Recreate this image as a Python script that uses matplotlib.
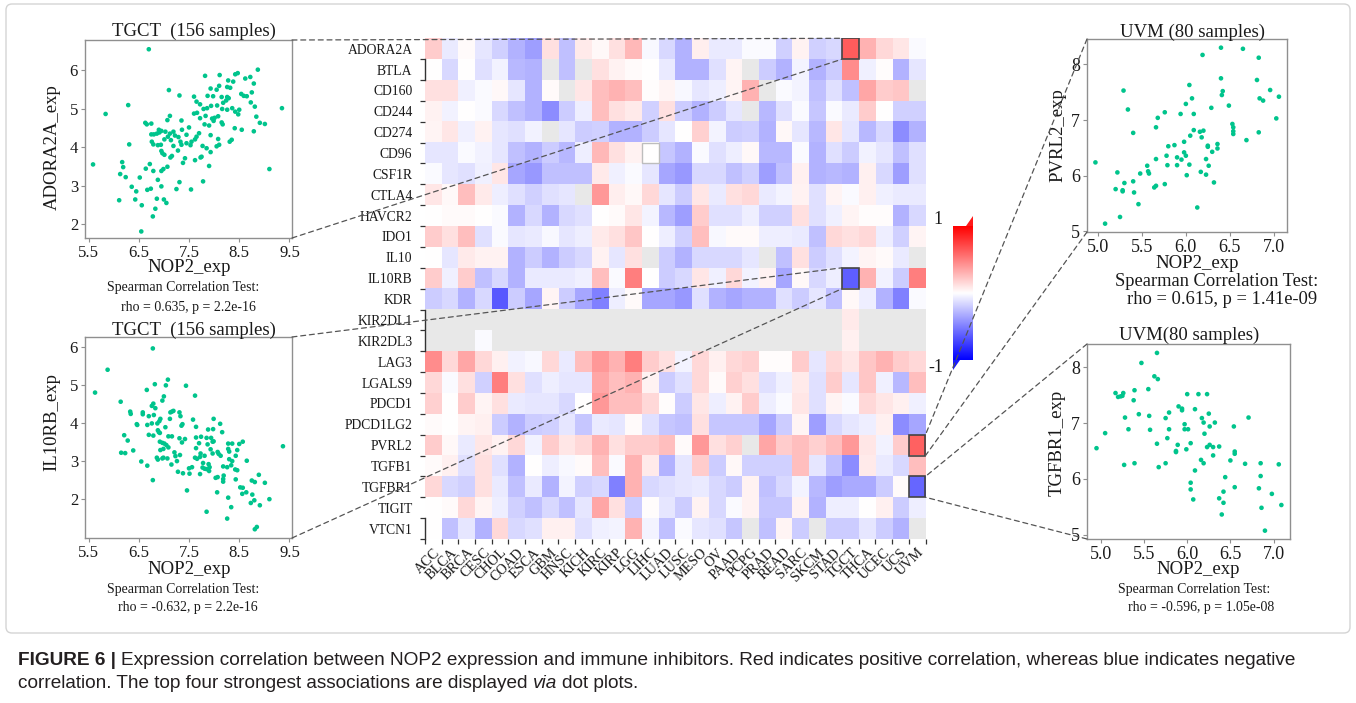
import numpy as np
import matplotlib
matplotlib.use("Agg")
import matplotlib.pyplot as plt
from matplotlib.patches import ConnectionPatch, Rectangle, Polygon, FancyBboxPatch
from matplotlib.transforms import IdentityTransform

plt.rcParams['font.family'] = ['Liberation Serif', 'DejaVu Serif']

# ---------------- data ----------------
genes = ['ADORA2A', 'BTLA', 'CD160', 'CD244', 'CD274', 'CD96', 'CSF1R', 'CTLA4',
         'HAVCR2', 'IDO1', 'IL10', 'IL10RB', 'KDR', 'KIR2DL1', 'KIR2DL3', 'LAG3',
         'LGALS9', 'PDCD1', 'PDCD1LG2', 'PVRL2', 'TGFB1', 'TGFBR1', 'TIGIT', 'VTCN1']
cancers = ['ACC', 'BLCA', 'BRCA', 'CESC', 'CHOL', 'COAD', 'ESCA', 'GBM', 'HNSC', 'KICH',
           'KIRC', 'KIRP', 'LGG', 'LIHC', 'LUAD', 'LUSC', 'MESO', 'OV', 'PAAD', 'PCPG',
           'PRAD', 'READ', 'SARC', 'SKCM', 'STAD', 'TGCT', 'THCA', 'UCEC', 'UCS', 'UVM']
NA = np.nan
r_ADORA2A = [0.20, -0.08, 0.02, -0.10, -0.18, -0.30, -0.38, 0.12, -0.25, 0.08, 0.03, 0.12,
             0.28, -0.03, -0.15, -0.30, 0.07, -0.08, -0.08, -0.02, -0.02, -0.18, 0.05, -0.18,
             -0.15, 0.635, 0.30, 0.15, 0.10, -0.02]
r_BTLA = [0.00, -0.15, 0.00, -0.12, -0.05, -0.28, -0.30, NA, -0.25, NA, 0.12, 0.05,
          0.02, 0.00, -0.08, -0.30, -0.30, -0.12, 0.04, NA, -0.20, -0.30, -0.04, -0.30,
          -0.20, 0.45, -0.06, 0.01, -0.30, -0.10]
r_CD160 = [0.12, 0.12, -0.06, -0.02, 0.03, -0.10, -0.30, 0.02, NA, 0.10, 0.25, 0.30,
           0.25, 0.01, 0.04, -0.03, -0.10, -0.07, 0.04, 0.30, NA, -0.02, -0.04, -0.25,
           -0.12, -0.25, 0.35, 0.20, 0.22, NA]
r_CD244 = [0.05, -0.05, 0.00, -0.02, -0.15, -0.25, -0.30, -0.45, -0.20, -0.07, 0.25, 0.12,
           0.08, -0.18, 0.12, -0.20, -0.30, -0.20, -0.10, NA, -0.28, -0.12, -0.02, -0.22,
           -0.02, -0.08, 0.20, 0.00, -0.18, -0.18]
r_CD274 = [0.04, 0.10, -0.06, 0.05, -0.10, -0.12, -0.05, NA, -0.10, -0.20, -0.18, -0.30,
           -0.30, -0.20, -0.10, 0.00, 0.18, -0.04, -0.20, -0.18, -0.30, 0.03, -0.10, -0.28,
           0.10, -0.10, -0.28, -0.15, -0.45, -0.30]
r_CD96 = [-0.10, -0.10, -0.02, -0.05, -0.10, -0.25, -0.30, -0.20, -0.28, -0.07, 0.28, 0.12,
          0.05, 0.00, -0.22, -0.30, -0.02, -0.12, -0.07, 0.03, -0.28, -0.28, -0.02, -0.30,
          -0.12, -0.20, -0.05, -0.10, -0.25, -0.12]
r_CSF1R = [-0.02, -0.10, -0.12, -0.06, 0.10, -0.35, -0.40, -0.25, -0.25, -0.25, 0.08, -0.06,
           -0.02, -0.10, -0.35, -0.40, -0.15, -0.15, -0.25, -0.18, -0.38, -0.25, 0.06, -0.30,
           -0.28, -0.30, 0.06, -0.15, -0.38, -0.12]
r_CTLA4 = [0.10, 0.03, 0.25, 0.08, -0.07, -0.12, -0.18, -0.12, -0.10, NA, 0.40, 0.07,
           0.03, 0.15, -0.10, -0.20, 0.10, -0.08, 0.12, 0.15, -0.08, -0.04, 0.05, -0.12,
           0.04, -0.02, 0.06, -0.06, -0.08, -0.08]
r_HAVCR2 = [0.00, 0.02, 0.02, 0.00, -0.02, -0.30, -0.15, -0.30, -0.15, -0.12, 0.00, 0.02,
            0.10, -0.04, -0.28, -0.38, 0.20, -0.12, -0.12, -0.07, -0.18, -0.18, 0.12, -0.12,
            -0.06, 0.04, 0.01, 0.01, -0.30, -0.15]
r_IDO1 = [0.20, 0.12, 0.25, -0.12, -0.02, -0.10, -0.08, -0.03, -0.10, -0.07, 0.08, 0.12,
          0.22, 0.00, -0.07, -0.18, 0.25, -0.03, 0.02, 0.02, -0.07, -0.07, -0.08, -0.25,
          0.15, 0.12, 0.15, -0.07, -0.18, 0.04]
r_IL10 = [0.00, -0.10, 0.08, 0.05, 0.05, -0.30, -0.20, -0.30, -0.20, -0.15, 0.05, -0.10,
          0.12, NA, -0.20, -0.30, -0.15, -0.15, -0.15, -0.10, NA, -0.25, 0.12, -0.20,
          -0.12, -0.04, 0.04, 0.02, -0.08, NA]
r_IL10RB = [0.20, -0.06, 0.20, -0.25, -0.15, -0.30, -0.08, -0.08, -0.08, -0.06, 0.25, -0.02,
            0.50, 0.00, -0.20, -0.15, 0.10, -0.06, 0.15, -0.05, 0.05, -0.35, 0.03, -0.15,
            -0.07, -0.632, 0.30, -0.05, -0.20, 0.50]
r_KDR = [-0.20, -0.15, -0.30, -0.15, -0.65, -0.20, -0.35, 0.04, -0.20, -0.35, -0.50, -0.07,
         0.02, -0.35, -0.35, -0.40, -0.12, -0.30, -0.35, -0.30, -0.30, -0.12, -0.20, -0.10,
         -0.25, 0.03, -0.07, -0.30, -0.50, -0.02]
r_KIR2DL1 = [NA] * 25 + [0.08] + [NA] * 4
r_KIR2DL3 = [NA, NA, NA, -0.02] + [NA] * 21 + [0.06] + [NA] * 4
r_LAG3 = [0.45, 0.15, 0.35, 0.15, 0.06, -0.05, -0.03, 0.15, -0.08, 0.25, 0.40, 0.30,
          0.50, 0.20, 0.12, -0.04, 0.15, 0.06, 0.15, 0.18, 0.01, 0.01, 0.20, -0.10,
          0.15, 0.10, 0.22, 0.30, 0.20, 0.15]
r_LGALS9 = [0.15, -0.02, 0.12, -0.18, 0.50, 0.12, -0.12, -0.07, -0.10, -0.10, 0.35, 0.25,
            0.30, 0.05, -0.20, -0.12, 0.15, 0.02, 0.18, 0.12, -0.12, -0.06, 0.08, -0.12,
            0.20, -0.10, 0.22, -0.06, -0.28, 0.25]
r_PDCD1 = [0.18, 0.00, 0.20, 0.04, 0.12, -0.08, -0.10, -0.10, -0.15, 0.00, 0.40, 0.25,
           0.25, 0.15, 0.01, -0.20, 0.10, -0.07, 0.05, 0.20, -0.07, -0.02, 0.10, -0.12,
           0.04, -0.02, 0.15, 0.10, 0.06, -0.06]
r_PDCD1LG2 = [0.02, 0.00, 0.04, 0.06, -0.20, -0.30, -0.20, -0.18, -0.10, -0.22, -0.08, -0.10,
              0.02, -0.12, -0.22, -0.25, 0.12, -0.22, -0.22, -0.22, -0.35, -0.20, 0.04, -0.38,
              -0.15, -0.10, -0.07, 0.06, -0.45, -0.35]
r_PVRL2 = [0.20, 0.03, -0.08, 0.10, 0.05, 0.15, -0.05, 0.20, 0.10, 0.15, 0.30, 0.12,
           0.20, 0.20, 0.25, 0.02, 0.40, 0.12, 0.18, NA, 0.35, 0.20, 0.25, 0.18,
           0.25, 0.40, 0.10, -0.05, 0.20, 0.615]
r_TGFB1 = [0.02, 0.06, -0.12, 0.12, -0.12, -0.30, 0.00, -0.07, -0.03, 0.02, 0.25, -0.02,
           0.30, 0.08, -0.30, -0.10, 0.20, -0.20, 0.03, -0.18, -0.18, -0.18, 0.25, -0.10,
           -0.25, -0.45, 0.08, -0.08, -0.15, 0.25]
r_TGFBR1 = [0.15, -0.15, -0.18, 0.12, -0.08, -0.25, -0.08, -0.30, -0.04, -0.18, -0.15, -0.50,
            0.30, -0.15, -0.12, -0.10, -0.08, -0.15, -0.20, 0.05, -0.25, -0.15, -0.04, -0.28,
            -0.38, -0.33, -0.33, -0.20, 0.02, -0.596]
r_TIGIT = [0.00, 0.02, 0.15, 0.04, -0.07, -0.18, -0.25, -0.15, -0.25, -0.10, 0.35, 0.12,
           -0.20, 0.01, -0.10, -0.20, 0.05, -0.15, -0.02, 0.05, -0.22, -0.22, 0.05, -0.30,
           -0.07, -0.07, 0.00, 0.06, -0.20, -0.07]
r_VTCN1 = [0.00, -0.25, -0.10, -0.30, 0.15, -0.15, -0.12, 0.06, 0.06, -0.12, -0.06, -0.04,
           0.30, -0.04, -0.25, -0.02, -0.10, -0.12, -0.22, NA, -0.25, 0.04, -0.20, NA,
           -0.20, -0.20, -0.10, -0.20, -0.30, NA]

# TGCT: NOP2 vs ADORA2A
tl_x = [6.70,7.82,8.11,8.42,8.47,8.87,8.62,8.72,8.28,8.38, 8.79,7.93,8.05,8.10,8.26,8.32,7.10,7.31,7.60,7.87,
        7.98,8.15,8.26,8.29,8.54,8.59,8.65,8.75,7.65,7.72, 6.29,8.24,8.18,8.73,8.81,9.35,7.79,7.86,7.94,8.06,
        8.16,8.26,8.36,8.42,8.50,8.48,7.66,7.60,5.84,7.12, 7.07,8.84,7.72,7.83,7.96,8.01,8.08,6.63,6.66,6.75,
        7.35,7.81,7.90,7.99,8.15,8.17,8.91,9.01,8.41,8.55, 8.79,7.50,7.36,7.19,7.12,7.03,6.95,6.90,6.86,6.80,
        6.91,6.75,7.22,7.29,7.45,7.65,7.70,7.08,7.01,7.14, 7.55,7.62,7.45,7.33,7.35,7.93,8.08,8.35,8.31,6.76,
        6.79,6.88,6.94,6.31,7.77,7.85,8.05,8.10,7.19,7.28, 6.95,6.97,7.01,7.53,7.93,7.75,7.13,7.16,7.42,7.38,
        7.62,7.73,5.59,6.17,6.19,6.72,6.64,7.07,6.99,6.95, 6.79,7.90,9.10,6.13,6.24,6.52,6.88,7.31,7.78,6.95,
        6.36,6.45,6.67,6.74,7.25,7.54,6.11,6.43,6.86,7.00, 7.05,6.56,6.83,6.78,6.55]
tl_y = [6.54,5.85,5.87,5.89,5.92,6.01,5.78,5.82,5.73,5.70, 5.65,5.52,5.49,5.59,5.56,5.54,5.48,5.34,5.31,5.33,
        5.32,5.30,5.30,5.27,5.38,5.33,5.32,5.42,5.18,5.11, 5.09,5.21,5.15,5.16,5.05,5.01,4.99,5.01,5.07,5.08,
        4.99,4.97,5.01,4.92,4.97,4.85,4.89,4.87,4.86,4.81, 4.70,4.79,4.75,4.81,4.74,4.76,4.80,4.63,4.59,4.61,
        4.69,4.59,4.56,4.68,4.64,4.59,4.63,4.60,4.49,4.45, 4.41,4.51,4.45,4.40,4.35,4.40,4.42,4.45,4.35,4.33,
        4.38,4.33,4.30,4.26,4.32,4.27,4.36,4.27,4.20,4.18, 4.14,4.20,4.10,4.14,4.06,4.31,4.21,4.19,4.14,4.14,
        4.07,4.05,4.06,4.07,4.03,3.97,4.02,4.06,4.03,3.91, 3.90,3.84,3.80,4.05,3.87,3.75,3.73,3.77,3.71,3.59,
        3.66,3.73,3.55,3.61,3.48,3.56,3.44,3.49,3.43,3.38, 3.38,3.51,3.43,3.30,3.22,3.21,3.15,3.09,3.11,2.98,
        2.97,2.85,2.89,2.92,2.91,2.90,2.62,2.64,2.66,2.64, 2.55,2.49,2.40,2.20,1.81]

# TGCT: NOP2 vs IL10RB
bl_x = [6.78,5.88,5.63,7.08,7.04,6.82,6.66,7.44,7.62,7.00, 6.97,6.14,6.79,6.76,6.83,6.33,6.34,6.58,6.58,6.70,
        6.80,7.13,7.16,7.19,7.31,7.33,6.46,6.47,6.67,6.76, 6.87,6.91,6.93,7.03,7.12,7.35,7.37,7.58,7.64,7.99,
        8.12,7.88,7.98,8.16,6.88,6.90,6.92,6.70,6.79,7.09, 7.16,6.21,6.28,7.31,7.42,7.36,7.64,7.74,7.85,7.94,
        7.97,7.99,6.92,6.97,7.01,7.05,7.70,7.87,8.28,8.36, 8.50,8.57,9.37,6.93,6.99,7.09,7.21,7.32,7.64,7.73,
        7.81,7.93,7.97,8.07,8.28,8.30,8.46,8.43,6.15,6.23, 6.39,6.86,6.88,6.97,6.99,7.07,7.23,7.26,7.62,7.66,
        7.72,8.09,8.13,6.55,6.67,7.15,7.78,7.89,8.30,8.36, 8.65,7.50,7.56,7.77,7.81,7.85,7.91,7.90,8.18,8.26,
        8.34,7.28,7.38,7.51,7.72,8.03,8.07,8.18,8.19,8.42, 8.46,8.75,8.81,8.89,9.01,6.78,8.18,8.43,8.52,8.57,
        7.46,8.06,8.56,8.64,8.76,8.28,8.80,8.73,9.10,8.91, 8.34,7.85,8.26,8.85,8.81]
bl_y = [5.96,5.40,4.80,5.14,4.99,5.02,4.87,4.98,4.72,4.70, 4.59,4.56,4.51,4.45,4.39,4.30,4.24,4.28,4.23,4.18,
        4.21,4.28,4.30,4.32,4.28,4.18,3.97,3.95,3.95,3.99, 3.99,4.05,4.11,3.89,4.11,3.93,3.97,4.09,3.90,4.11,
        3.98,3.83,3.84,3.76,3.81,3.76,3.74,3.69,3.67,3.65, 3.65,3.68,3.54,3.60,3.58,3.49,3.62,3.64,3.61,3.61,
        3.51,3.52,3.51,3.48,3.46,3.42,3.47,3.44,3.46,3.46, 3.45,3.51,3.39,3.29,3.32,3.36,3.23,3.16,3.34,3.20,
        3.14,3.31,3.20,3.24,3.32,3.25,3.29,3.14,3.22,3.21, 3.28,3.09,3.04,3.07,3.09,3.07,3.13,3.00,3.09,3.06,
        3.11,3.19,3.14,2.99,2.88,2.91,2.95,2.92,3.05,3.00, 3.01,2.81,2.84,2.83,2.80,2.79,2.84,2.74,2.86,2.84,
        2.89,2.72,2.68,2.67,2.66,2.56,2.58,2.53,2.62,2.78, 2.76,2.49,2.45,2.64,2.43,2.50,2.46,2.52,2.31,2.30,
        2.23,2.18,2.14,2.18,2.12,2.04,1.97,1.90,2.00,1.84, 1.79,1.67,1.49,1.27,1.21]

# UVM: NOP2 vs PVRL2
tr_x = [6.40,6.65,6.19,6.83,6.40,6.81,5.29,6.04,6.96,6.42, 6.41,6.84,6.88,7.06,6.07,6.00,6.49,6.29,5.34,5.76,
        5.68,5.94,6.09,7.03,5.66,5.40,6.53,6.54,6.54,6.54, 6.83,6.09,6.16,6.20,6.05,6.18,6.69,5.98,5.87,5.80,
        6.25,6.25,6.36,6.36,6.30,5.98,6.00,5.78,5.66,5.90, 5.95,6.23,4.97,5.56,5.79,5.90,6.04,6.26,5.22,5.48,
        5.57,5.58,6.17,6.23,6.01,5.30,5.40,5.76,5.66,5.64, 6.32,5.20,5.28,5.28,5.41,5.46,6.13,5.25,5.08]
tr_y = [8.30,8.28,8.17,8.12,7.75,7.72,7.53,7.63,7.54,7.52, 7.45,7.39,7.35,7.42,7.39,7.29,7.26,7.22,7.19,7.14,
        7.04,7.11,7.11,7.03,6.87,6.77,6.93,6.87,6.80,6.75, 6.78,6.82,6.79,6.81,6.72,6.69,6.64,6.61,6.55,6.53,
        6.54,6.52,6.57,6.49,6.43,6.42,6.36,6.36,6.30,6.33, 6.29,6.30,6.24,6.18,6.19,6.19,6.20,6.18,6.06,6.04,
        6.08,6.04,6.07,6.02,6.01,5.87,5.90,5.85,5.82,5.79, 5.88,5.76,5.74,5.72,5.70,5.49,5.43,5.26,5.14]

# UVM: NOP2 vs TGFBR1
br_x = [5.65,5.47,5.62,5.66,5.39,5.55,5.17,5.20,5.23,5.25, 5.26,5.38,6.00,6.13,6.23,5.90,5.94,5.94,5.79,6.09,
        5.28,5.44,5.56,5.75,6.17,6.19,6.25,6.32,6.26,6.71, 6.54,5.32,5.57,5.79,5.97,5.97,6.01,6.20,5.05,5.77,
        4.95,5.65,5.89,6.04,5.99,5.87,5.87,6.23,6.26,6.30, 6.37,6.30,6.55,6.55,6.50,6.16,6.19,5.27,5.39,5.67,
        5.75,6.67,6.85,7.06,6.09,6.44,6.85,6.04,6.04,6.07, 6.55,6.83,6.42,6.37,6.42,6.98,7.09,6.86,6.40,6.90]
br_y = [8.26,8.08,7.84,7.79,7.59,7.61,7.54,7.47,7.48,7.49, 7.54,7.41,7.52,7.52,7.52,7.30,7.26,7.23,7.19,7.25,
        7.10,7.16,7.13,7.09,7.09,7.01,7.17,7.01,6.94,7.10, 6.94,6.89,6.88,6.89,6.98,6.89,6.89,6.81,6.82,6.73,
        6.55,6.63,6.61,6.64,6.53,6.50,6.48,6.57,6.61,6.57, 6.58,6.42,6.49,6.45,6.33,6.34,6.28,6.25,6.28,6.21,
        6.28,6.27,6.28,6.26,6.15,6.03,6.05,5.93,5.81,5.63, 5.85,5.83,5.77,5.65,5.57,5.73,5.53,5.48,5.36,5.07]

tgct_ticks_x = [5.5, 6.5, 7.5, 8.5, 9.5]
tgct_ticks_y = [2, 3, 4, 5, 6]
uvm_ticks_x = [5.0, 5.5, 6.0, 6.5, 7.0]
uvm_ticks_y = [5, 6, 7, 8]

# ---------------- layout helpers ----------------
W, H = 1356, 703
fig = plt.figure(figsize=(W / 100, H / 100), dpi=100)
fig.patch.set_facecolor('white')


def rect(l, t, r, b):
    return [l / W, 1 - b / H, (r - l) / W, (b - t) / H]


def ftext(px, py, s, **kw):
    return fig.text(px / W, 1 - py / H, s, **kw)


# light frame around the figure panel
frame = FancyBboxPatch((6, H - 633), W - 12, 629, boxstyle="round,pad=0,rounding_size=6",
                       fill=False, edgecolor='#d4d4d4', linewidth=1.0,
                       transform=IdentityTransform())
fig.patches.append(frame)

PT_COLOR = '#00c48c'
SPINE = '#8f8f8f'


def scatter_panel(box, x, y, xlim, ylim, xt, yt, tsize):
    ax = fig.add_axes(rect(*box))
    ax.scatter(x, y, s=11, c=PT_COLOR, edgecolors='none', zorder=3)
    ax.set_xlim(*xlim)
    ax.set_ylim(*ylim)
    ax.set_xticks(xt)
    ax.set_xticklabels([f"{v:.1f}" for v in xt])
    ax.set_yticks(yt)
    ax.set_yticklabels([f"{v:g}" for v in yt])
    for sp in ax.spines.values():
        sp.set_color(SPINE)
        sp.set_linewidth(1.0)
    ax.tick_params(direction='out', length=3, width=0.8, color=SPINE,
                   labelsize=tsize, labelcolor='#1a1a1a', pad=2)
    return ax


ax_tl = scatter_panel((85, 40, 292, 238), tl_x, tl_y, (5.43, 9.55), (1.64, 6.78),
                      tgct_ticks_x, tgct_ticks_y, 12)
ax_bl = scatter_panel((85, 337, 292, 538), bl_x, bl_y, (5.43, 9.55), (0.98, 6.26),
                      tgct_ticks_x, tgct_ticks_y, 12)
ax_tr = scatter_panel((1087, 39, 1287, 232), tr_x, tr_y, (4.874, 7.152), (4.99, 8.456),
                      uvm_ticks_x, uvm_ticks_y, 13)
ax_br = scatter_panel((1087, 344, 1290, 539), br_x, br_y, (4.84, 7.19), (4.92, 8.42),
                      uvm_ticks_x, uvm_ticks_y, 13)

TXT = '#1a1a1a'
# titles / labels of scatter panels
ftext(194, 31, "TGCT  (156 samples)", fontsize=13.5, ha='center', va='center', color=TXT)
ftext(189, 268, "NOP2_exp", fontsize=13.5, ha='center', va='center', color=TXT)
ftext(52, 147, "ADORA2A_exp", fontsize=13.5, ha='center', va='center', rotation=90, color=TXT)
ftext(183, 287, "Spearman Correlation Test:", fontsize=10, ha='center', va='center', color=TXT)
ftext(188, 307, "rho = 0.635, p = 2.2e-16", fontsize=10, ha='center', va='center', color=TXT)

ftext(194, 330, "TGCT  (156 samples)", fontsize=13.5, ha='center', va='center', color=TXT)
ftext(189, 570, "NOP2_exp", fontsize=13.5, ha='center', va='center', color=TXT)
ftext(52, 422, "IL10RB_exp", fontsize=13.5, ha='center', va='center', rotation=90, color=TXT)
ftext(183, 589, "Spearman Correlation Test:", fontsize=10, ha='center', va='center', color=TXT)
ftext(188, 608, "rho = -0.632, p = 2.2e-16", fontsize=10, ha='center', va='center', color=TXT)

ftext(1192, 32, "UVM (80 samples)", fontsize=13.5, ha='center', va='center', color=TXT)
ftext(1197, 263, "NOP2_exp", fontsize=13.5, ha='center', va='center', color=TXT)
ftext(1058, 135, "PVRL2_exp", fontsize=13.5, ha='center', va='center', rotation=90, color=TXT)
ftext(1217, 282, "Spearman Correlation Test:", fontsize=13.3, ha='center', va='center', color=TXT)
ftext(1222, 300, "rho = 0.615, p = 1.41e-09", fontsize=13.3, ha='center', va='center', color=TXT)

ftext(1189, 335, "UVM(80 samples)", fontsize=13.5, ha='center', va='center', color=TXT)
ftext(1198, 570, "NOP2_exp", fontsize=13.5, ha='center', va='center', color=TXT)
ftext(1057, 443, "TGFBR1_exp", fontsize=13.5, ha='center', va='center', rotation=90, color=TXT)
ftext(1194, 590, "Spearman Correlation Test:", fontsize=10, ha='center', va='center', color=TXT)
ftext(1201, 608, "rho = -0.596, p = 1.05e-08", fontsize=10, ha='center', va='center', color=TXT)

# ---------------- heatmap ----------------
corr = np.array([r_ADORA2A, r_BTLA, r_CD160, r_CD244, r_CD274, r_CD96, r_CSF1R, r_CTLA4,
                 r_HAVCR2, r_IDO1, r_IL10, r_IL10RB, r_KDR, r_KIR2DL1, r_KIR2DL3, r_LAG3,
                 r_LGALS9, r_PDCD1, r_PDCD1LG2, r_PVRL2, r_TGFB1, r_TGFBR1, r_TIGIT, r_VTCN1],
                dtype=float)
cmap = plt.get_cmap('bwr').copy()
cmap.set_bad('#e8e8e8')

ax_hm = fig.add_axes(rect(425, 38.3, 925.5, 539))
ax_hm.imshow(np.ma.masked_invalid(corr), cmap=cmap, vmin=-1, vmax=1, aspect='auto',
             interpolation='nearest')
ax_hm.set_xlim(-0.5, len(cancers) - 0.5)
ax_hm.set_ylim(len(genes) - 0.5, -0.5)
for sp in ax_hm.spines.values():
    sp.set_visible(False)
ax_hm.set_xticks(range(len(cancers)))
ax_hm.set_xticklabels(cancers, rotation=45, ha='right', va='top', rotation_mode='anchor',
                      fontsize=10.2, color=TXT)
ax_hm.set_yticks(range(len(genes)))
ax_hm.set_yticklabels(genes, fontsize=9.8, color=TXT)
ax_hm.set_xticks(np.arange(-0.5, len(cancers), 1), minor=True)
ax_hm.set_yticks(np.arange(0.5, len(genes), 1), minor=True)
ax_hm.tick_params(axis='both', which='major', length=0)
ax_hm.tick_params(axis='x', which='major', pad=5)
ax_hm.tick_params(axis='y', which='major', pad=9)
ax_hm.tick_params(axis='both', which='minor', length=3.6, width=0.9, color='#333333')

# bracket-like segments on the left edge
for y0, y1 in [(0.5, 1.5), (12.5, 14.5), (22.5, 23.5)]:
    ax_hm.plot([-0.5, -0.5], [y0, y1], color='#333333', lw=1.0, clip_on=False, zorder=4)

# highlighted cells
ci_tgct = cancers.index('TGCT')
ci_uvm = cancers.index('UVM')
hl = [(ci_tgct, genes.index('ADORA2A')), (ci_tgct, genes.index('IL10RB')),
      (ci_uvm, genes.index('PVRL2')), (ci_uvm, genes.index('TGFBR1'))]
for c, r in hl:
    ax_hm.add_patch(Rectangle((c - 0.5, r - 0.5), 1, 1, fill=False, edgecolor='#444444',
                              lw=1.2, zorder=5))
ax_hm.add_patch(Rectangle((cancers.index('LIHC') - 0.5, genes.index('CD96') - 0.5), 1, 1,
                          fill=False, edgecolor='#bdbdbd', lw=1.0, zorder=5))

# dashed connectors
def connect(ax_s, corner, cell_xy):
    con = ConnectionPatch(xyA=corner, coordsA='axes fraction', axesA=ax_s,
                          xyB=cell_xy, coordsB='data', axesB=ax_hm,
                          linestyle=(0, (4, 3)), color='#555555', lw=0.9, zorder=6)
    fig.add_artist(con)


r_ad, r_il, r_pv, r_tg = (genes.index(g) for g in ['ADORA2A', 'IL10RB', 'PVRL2', 'TGFBR1'])
connect(ax_tl, (1, 1), (ci_tgct - 0.5, r_ad - 0.5))
connect(ax_tl, (1, 0), (ci_tgct - 0.5, r_ad + 0.5))
connect(ax_bl, (1, 1), (ci_tgct - 0.5, r_il - 0.5))
connect(ax_bl, (1, 0), (ci_tgct - 0.5, r_il + 0.5))
connect(ax_tr, (0, 1), (ci_uvm + 0.5, r_pv - 0.5))
connect(ax_tr, (0, 0), (ci_uvm + 0.5, r_pv + 0.5))
connect(ax_br, (0, 1), (ci_uvm + 0.5, r_tg - 0.5))
connect(ax_br, (0, 0), (ci_uvm + 0.5, r_tg + 0.5))

# ---------------- colour bar ----------------
ax_cb = fig.add_axes(rect(953, 226, 973, 360))
ax_cb.imshow(np.linspace(1, -1, 256).reshape(-1, 1), cmap='bwr', vmin=-1, vmax=1,
             aspect='auto', extent=(0, 1, 0, 1))
ax_cb.set_axis_off()
ax_cb.add_patch(Polygon([(0.65, 1.0), (1.0, 1.0), (1.0, 1.075)], closed=True,
                        facecolor='#ff1a1a', edgecolor='none', transform=ax_cb.transAxes,
                        clip_on=False))
ax_cb.add_patch(Polygon([(0.0, 0.0), (0.35, 0.0), (0.0, -0.075)], closed=True,
                        facecolor='#1a1aff', edgecolor='none', transform=ax_cb.transAxes,
                        clip_on=False))
ftext(938, 219, "1", fontsize=13, ha='center', va='center', color=TXT)
ftext(936, 368, "-1", fontsize=13, ha='center', va='center', color=TXT)

# ---------------- caption ----------------
CAP = '#231f20'
renderer = fig.canvas.get_renderer()


def runs(x0, yb, parts, size=13.65):
    probe = fig.text(0, 0, "a a", fontsize=size, family='Liberation Sans')
    probe2 = fig.text(0, 0, "aa", fontsize=size, family='Liberation Sans')
    sp = probe.get_window_extent(renderer).width - probe2.get_window_extent(renderer).width
    probe.remove()
    probe2.remove()
    x = x0
    for s, weight, style in parts:
        t = fig.text(x / W, 1 - yb / H, s, fontsize=size, fontweight=weight, fontstyle=style,
                     family='Liberation Sans', color=CAP, ha='left', va='baseline')
        bb = t.get_window_extent(renderer)
        x = bb.x1 + sp


runs(18, 665, [("FIGURE 6 |", 'bold', 'normal'),
               ("Expression correlation between NOP2 expression and immune inhibitors. Red indicates "
                "positive correlation, whereas blue indicates negative", 'normal', 'normal')])
runs(18, 688, [("correlation. The top four strongest associations are displayed", 'normal', 'normal'),
               ("via", 'normal', 'italic'),
               ("dot plots.", 'normal', 'normal')])

fig.savefig("out.png", dpi=100, facecolor='white')
